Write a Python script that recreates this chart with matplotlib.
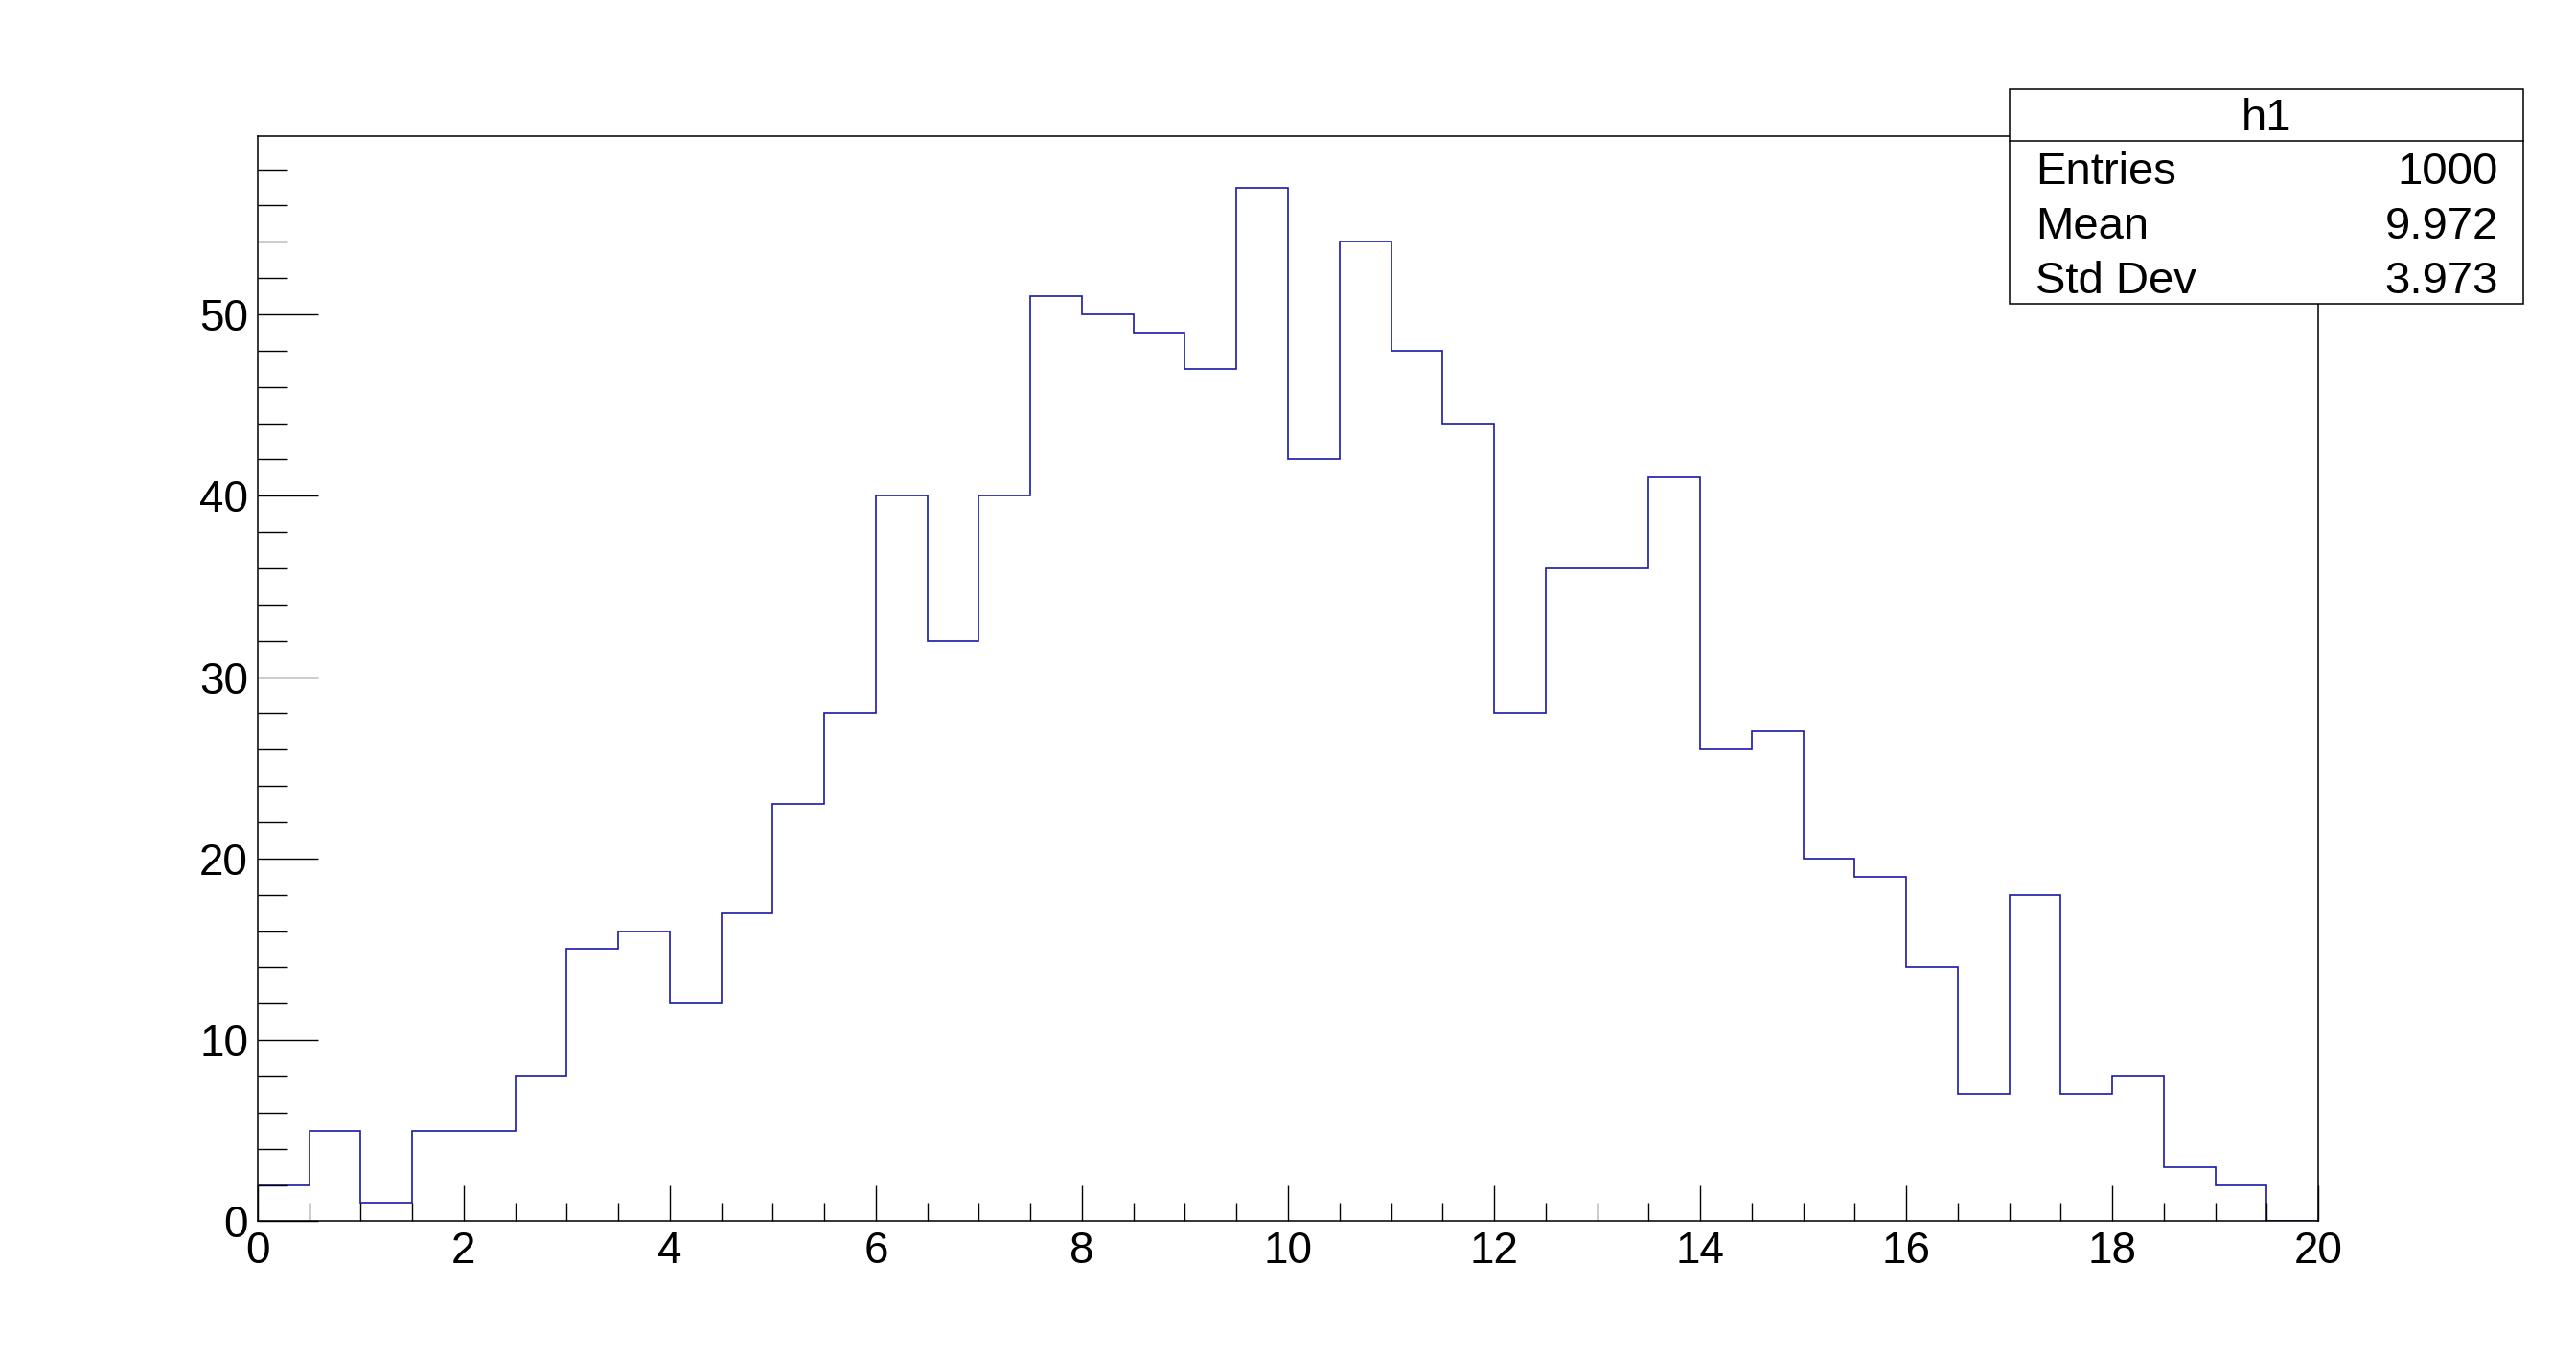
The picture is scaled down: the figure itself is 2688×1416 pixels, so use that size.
import numpy as np
import matplotlib
matplotlib.use("Agg")
import matplotlib.pyplot as plt
from matplotlib.patches import Rectangle
from matplotlib.ticker import MultipleLocator

# Histogram contents (40 bins of width 0.5 between 0 and 20)
bin_edges = np.linspace(0, 20, 41)
counts = [2, 5, 1, 5, 5, 8, 15, 16, 12, 17,
          23, 28, 40, 32, 40, 51, 50, 49, 47, 57,
          42, 54, 48, 44, 28, 36, 36, 41, 26, 27,
          20, 19, 14, 7, 18, 7, 8, 3, 2, 0]

# Stats box
hist_name = "h1"
stat_labels = ["Entries", "Mean", "Std Dev"]
stat_values = ["1000", "9.972", "3.973"]

plt.rcParams['font.family'] = ['Liberation Sans', 'DejaVu Sans']

W, H = 2688, 1416
fig = plt.figure(figsize=(W / 100, H / 100), dpi=100)
ax = fig.add_axes([0.1, 0.1, 0.8, 0.8])

ax.stairs(counts, bin_edges, baseline=0, color="#1a1aa8", linewidth=1.2)

ax.set_xlim(0, 20)
ax.set_ylim(0, max(counts) * 1.05)

ax.xaxis.set_major_locator(MultipleLocator(2))
ax.xaxis.set_minor_locator(MultipleLocator(0.5))
ax.yaxis.set_major_locator(MultipleLocator(10))
ax.yaxis.set_minor_locator(MultipleLocator(2))

ax.tick_params(axis="both", which="both", direction="in", top=False, right=False,
               width=1.0, color="black")
ax.tick_params(axis="x", which="major", length=27, labelsize=33, pad=7)
ax.tick_params(axis="x", which="minor", length=14)
ax.tick_params(axis="y", which="major", length=45, labelsize=33, pad=7)
ax.tick_params(axis="y", which="minor", length=22)

for sp in ax.spines.values():
    sp.set_linewidth(1.1)

# stats box in figure pixel coordinates
def fx(px):
    return px / W

def fy(py):
    return 1 - py / H

x0, x1 = 2097, 2633
y0, y1, ysep = 93, 317, 147
box = Rectangle((fx(x0), fy(y1)), fx(x1) - fx(x0), fy(y0) - fy(y1),
                transform=fig.transFigure, facecolor="white", edgecolor="black",
                linewidth=1.1, zorder=5)
fig.add_artist(box)
fig.add_artist(plt.Line2D([fx(x0), fx(x1)], [fy(ysep), fy(ysep)],
                          transform=fig.transFigure, color="black", linewidth=1.1, zorder=6))

fig.text(fx((x0 + x1) / 2), fy(124), hist_name, ha="center", va="center",
         fontsize=34, zorder=7)
row_y = [180, 237, 294]
for lab, val, ry in zip(stat_labels, stat_values, row_y):
    fig.text(fx(2124), fy(ry), lab, ha="left", va="center", fontsize=34, zorder=7)
    fig.text(fx(2607), fy(ry), val, ha="right", va="center", fontsize=34, zorder=7)

fig.savefig("out.png", dpi=100, facecolor="white")
